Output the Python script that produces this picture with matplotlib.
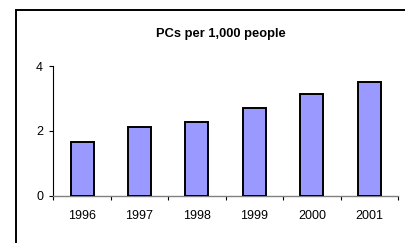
import matplotlib
matplotlib.use("Agg")
import matplotlib.pyplot as plt
from matplotlib.patches import Rectangle
import numpy as np

plt.rcParams['font.family'] = ['Liberation Sans', 'DejaVu Sans']

years = ["1996", "1997", "1998", "1999", "2000", "2001"]
values = [1.67, 2.12, 2.28, 2.69, 3.14, 3.52]
yticks = [0, 2, 4]
title = "PCs per 1,000 people"

W, H = 406, 243
fig = plt.figure(figsize=(W / 100, H / 100), dpi=100)
fig.patch.set_facecolor("white")

# outer frame (cut off at right and bottom)
fig.add_artist(Rectangle((16 / W, -0.1), 1.2, (H - 10) / H + 0.1,
                         transform=fig.transFigure, fill=False,
                         edgecolor="black", linewidth=1.4))

ax = fig.add_axes([53.3 / W, (H - 195.7) / H, (398 - 53.3) / W, (195.7 - 66) / H])
x = np.arange(len(years))
ax.bar(x, values, width=0.4, color="#9999FF", edgecolor="black", linewidth=1.4, zorder=3)

ax.set_xlim(-0.5, len(years) - 0.5)
ax.set_ylim(0, 4)
ax.set_yticks(yticks)
ax.set_yticklabels([str(v) for v in yticks])

ax.set_xticks(np.arange(len(years) + 1) - 0.5)
ax.set_xticklabels([])
ax.set_xticks(x, minor=True)
ax.set_xticklabels(years, minor=True)
ax.tick_params(axis="x", which="major", direction="out", length=3, width=0.8, color="black")
ax.tick_params(axis="x", which="minor", length=0, pad=10.5, labelsize=9)
ax.tick_params(axis="y", direction="out", length=3, width=0.8, pad=4.3, labelsize=9)

for s in ["top", "right"]:
    ax.spines[s].set_visible(False)
ax.spines["left"].set_color("black")
ax.spines["left"].set_linewidth(0.8)
ax.spines["bottom"].set_color("#808080")
ax.spines["bottom"].set_linewidth(1.0)

fig.text(221 / W, 1 - 34 / H, title, ha="center", va="center",
         fontsize=9.3, fontweight="bold")

fig.savefig("out.png", dpi=100, facecolor="white")
